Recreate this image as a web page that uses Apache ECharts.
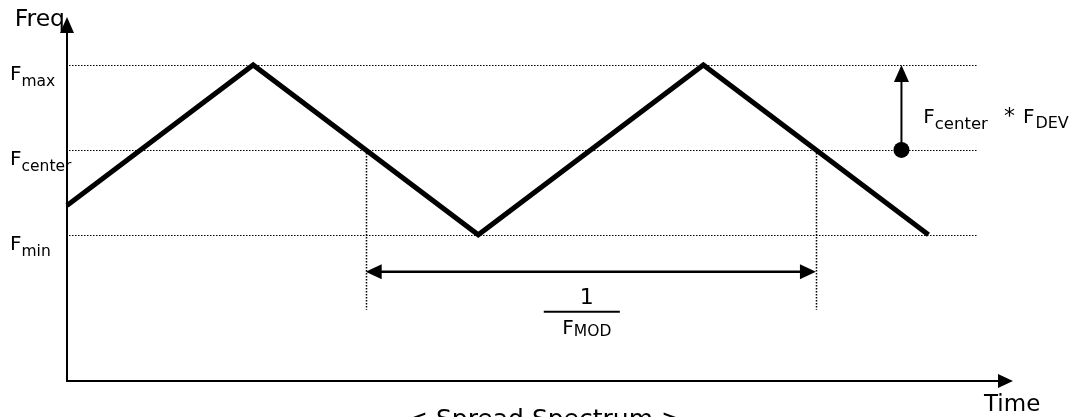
<!DOCTYPE html>
<html><head><meta charset="utf-8">
<script src="https://cdn.jsdelivr.net/npm/echarts@6/dist/echarts.min.js"></script>
<style>html,body{margin:0;padding:0;background:#fff}#c{width:1081px;height:417px}</style>
</head><body><div id="c"></div>
<script>
// ---------------- data ----------------
const timeRange = [0.173, 4.34];
const freqRange = [0.28, 4.47];
const levelValues = [4, 3, 2];               // Fmax, Fcenter, Fmin
const levelMain = ['F', 'F', 'F'];
const levelSub = ['max', 'center', 'min'];
const waveTime = [0.173, 1, 2, 3, 4];
const waveFreq = [2.346, 4, 2, 4, 2];
const guideEnd = 4.217;
const periodMarks = [1.5, 3.5];              // Fcenter crossings one period apart
const periodDropTo = [1.12];
const periodArrowLevel = [1.565];
const fractionPos = [2.46, 1.094];
const fractionHalfWidth = [0.169];
const fractionTop = ['1'];
const fractionBottom = ['F', 'MOD'];
const devArrow = [3.88, 3, 4];               // time, from level, to level
const devLabelPos = [3.977, 3.50];
const devLabel = ['F', 'center', '*', 'F', 'DEV'];
const axisNames = ['Time', 'Freq'];
const caption = ['< Spread Spectrum >'];

// ---------------- chart ----------------
const FONT = 'DejaVu Sans';
const chart = echarts.init(document.getElementById('c'));
const DOT = {stroke: '#000', lineWidth: 1.2, lineDash: [1.5, 1.5]};
const crisp = v => Math.round(v) + 0.5;

function guideItem(params, api) {
  const v = api.value(1);
  const a = api.coord([timeRange[0], v]);
  const b = api.coord([guideEnd, v]);
  const y = crisp(a[1]);
  return {type: 'line', shape: {x1: a[0] + 2, y1: y, x2: b[0], y2: y}, style: DOT};
}
function dropItem(params, api) {
  const t = api.value(0);
  const a = api.coord([t, api.value(1)]);
  const b = api.coord([t, periodDropTo[0]]);
  const x = crisp(a[0]);
  return {type: 'line', shape: {x1: x, y1: a[1], x2: x, y2: b[1]}, style: {stroke: '#000', lineWidth: 1.5, lineDash: [1.5, 1.5]}};
}
function axisArrowItem(params, api) {
  const p = api.coord([api.value(0), api.value(1)]);
  const H = 7;
  if (params.dataIndex === 0) { // y axis (up)
    return {type: 'polygon', shape: {points: [[p[0], p[1] - 8], [p[0] - H, p[1] + 8], [p[0] + H, p[1] + 8]]}, style: {fill: '#000'}};
  }
  return {type: 'polygon', shape: {points: [[p[0] + 8, p[1]], [p[0] - 7, p[1] - H], [p[0] - 7, p[1] + H]]}, style: {fill: '#000'}};
}
function periodArrowItem(params, api) {
  const a = api.coord([periodMarks[0], periodArrowLevel[0]]);
  const b = api.coord([periodMarks[1], periodArrowLevel[0]]);
  const L = 16, H = 7.5;
  return {type: 'group', children: [
    {type: 'line', shape: {x1: a[0] + 4, y1: a[1], x2: b[0] - 4, y2: b[1]}, style: {stroke: '#000', lineWidth: 2.5}},
    {type: 'polygon', shape: {points: [[a[0], a[1]], [a[0] + L, a[1] - H], [a[0] + L, a[1] + H]]}, style: {fill: '#000'}},
    {type: 'polygon', shape: {points: [[b[0], b[1]], [b[0] - L, b[1] - H], [b[0] - L, b[1] + H]]}, style: {fill: '#000'}}
  ]};
}
function devArrowItem(params, api) {
  const base = api.coord([devArrow[0], devArrow[1]]);
  const tip = api.coord([devArrow[0], devArrow[2]]);
  const L = 17, H = 7.5;
  const p = api.coord(devLabelPos);
  return {type: 'group', children: [
    {type: 'line', shape: {x1: base[0], y1: base[1], x2: tip[0], y2: tip[1] + 4}, style: {stroke: '#000', lineWidth: 2}},
    {type: 'polygon', shape: {points: [[tip[0], tip[1]], [tip[0] - H, tip[1] + L], [tip[0] + H, tip[1] + L]]}, style: {fill: '#000'}},
    {type: 'circle', shape: {cx: base[0], cy: base[1], r: 8}, style: {fill: '#000'}},
    {type: 'text', x: p[0], y: p[1], style: {
      text: '{m|' + devLabel[0] + '}{s|' + devLabel[1] + '}{a|' + devLabel[2] + '}{m|' + devLabel[3] + '}{d|' + devLabel[4] + '}',
      align: 'left', verticalAlign: 'top',
      rich: {
        m: {fontSize: 20, lineHeight: 20, fontFamily: FONT, fill: '#000'},
        s: {fontSize: 16.5, lineHeight: 20, fontFamily: FONT, fill: '#000', padding: [14, 0, 0, 0]},
        a: {fontSize: 22, lineHeight: 20, fontFamily: FONT, fill: '#000', padding: [0, 8, 0, 16]},
        d: {fontSize: 16, lineHeight: 20, fontFamily: FONT, fill: '#000', padding: [12, 0, 0, 1]}
      }}}
  ]};
}
function fractionItem(params, api) {
  const c = api.coord(fractionPos);
  const l = api.coord([fractionPos[0] - fractionHalfWidth[0], fractionPos[1]]);
  const r = api.coord([fractionPos[0] + fractionHalfWidth[0], fractionPos[1]]);
  return {type: 'group', children: [
    {type: 'line', shape: {x1: l[0], y1: l[1], x2: r[0], y2: r[1]}, style: {stroke: '#000', lineWidth: 2}},
    {type: 'text', x: c[0] + 5, y: c[1] - 3, style: {text: fractionTop[0], fontSize: 22, fontFamily: FONT, fill: '#000', align: 'center', verticalAlign: 'bottom'}},
    {type: 'text', x: c[0] + 5, y: c[1] + 7, style: {
      text: '{m|' + fractionBottom[0] + '}{s|' + fractionBottom[1] + '}',
      align: 'center', verticalAlign: 'top',
      rich: {
        m: {fontSize: 20, lineHeight: 20, fontFamily: FONT, fill: '#000'},
        s: {fontSize: 15.5, lineHeight: 20, fontFamily: FONT, fill: '#000', padding: [7, 0, 0, 0]}
      }}}
  ]};
}

const option = {
  animation: false,
  backgroundColor: '#fff',
  title: {
    text: caption[0], left: 407, top: 408, padding: 0,
    textStyle: {fontSize: 25, fontWeight: 'normal', fontFamily: FONT, color: '#000'}
  },
  grid: {left: 67, right: 76, top: 25, bottom: 36, outerBoundsMode: 'none', containLabel: false},
  xAxis: {
    type: 'value', min: timeRange[0], max: timeRange[1],
    name: axisNames[0], nameLocation: 'end', nameGap: -21,
    nameTextStyle: {fontSize: 23, fontFamily: FONT, color: '#000', align: 'left', verticalAlign: 'top', padding: [13, 0, 0, 0]},
    axisLine: {show: true, onZero: false, symbol: 'none', lineStyle: {color: '#000', width: 2}},
    axisTick: {show: false}, axisLabel: {show: false}, splitLine: {show: false}
  },
  yAxis: {
    type: 'value', min: freqRange[0], max: freqRange[1],
    name: axisNames[1], nameLocation: 'end', nameGap: 5,
    nameTextStyle: {fontSize: 23.5, fontFamily: FONT, color: '#000', align: 'right', verticalAlign: 'middle', padding: [0, 2, 0, 0]},
    axisLine: {show: true, onZero: false, symbol: 'none', lineStyle: {color: '#000', width: 2}},
    axisTick: {show: false}, splitLine: {show: false},
    axisLabel: {
      show: true, customValues: levelValues, margin: 57, align: 'left', verticalAlign: 'top',
      formatter: function (v) {
        const i = levelValues.indexOf(v);
        return i < 0 ? '' : '{m|' + levelMain[i] + '}{s|' + levelSub[i] + '}';
      },
      rich: {
        m: {fontSize: 20, lineHeight: 20, fontFamily: FONT, color: '#000'},
        s: {fontSize: 15.5, lineHeight: 20, fontFamily: FONT, color: '#000', padding: [14, 0, 0, 0]}
      }
    }
  },
  series: [
    {type: 'custom', renderItem: guideItem, data: levelValues.map(v => [guideEnd, v]), z: 1, silent: true},
    {type: 'custom', renderItem: dropItem, data: periodMarks.map(t => [t, levelValues[1]]), z: 1, silent: true},
    {type: 'line', data: waveTime.map((t, i) => [t, waveFreq[i]]), symbol: 'none', showSymbol: false, clip: false,
      lineStyle: {color: '#000', width: 5, join: 'miter'}, z: 5, silent: true},
    {type: 'custom', renderItem: axisArrowItem, data: [[timeRange[0], freqRange[1]], [timeRange[1], freqRange[0]]], z: 7, silent: true},
    {type: 'custom', renderItem: periodArrowItem, data: [[periodMarks[0], periodArrowLevel[0]]], z: 6, silent: true},
    {type: 'custom', renderItem: devArrowItem, data: [[devArrow[0], devArrow[1]]], z: 6, silent: true},
    {type: 'custom', renderItem: fractionItem, data: [fractionPos], z: 6, silent: true}
  ]
};
chart.setOption(option);
</script>
</body></html>
